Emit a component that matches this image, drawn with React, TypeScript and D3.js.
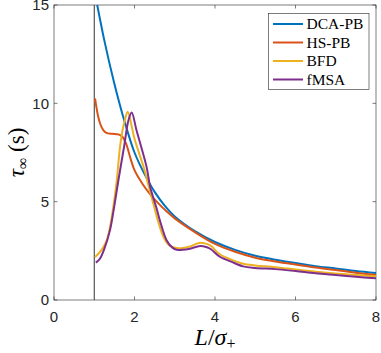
import { useEffect, useRef } from "react";
import * as d3 from "d3";

// values
const dcaL = [1, 1.25, 1.5, 1.75, 2, 2.25, 2.5, 2.75, 3, 3.5, 4, 4.5, 5, 5.5, 6, 6.5, 7, 7.5, 8];
const dcaV = [15.8, 13.2, 11.0, 9.1, 7.5, 6.4, 5.5, 4.8, 4.25, 3.5, 2.95, 2.55, 2.25, 2.05, 1.88, 1.72, 1.6, 1.47, 1.37];

const hsL = [1.02, 1.05, 1.1, 1.15, 1.22, 1.3, 1.45, 1.6, 1.7, 1.8, 1.9, 2, 2.2, 2.4, 2.6, 2.8, 3, 3.5, 4, 4.5, 5, 5.5, 6, 6.5, 7, 7.5, 8];
const hsV = [10.25, 9.85, 9.3, 8.95, 8.65, 8.5, 8.45, 8.42, 8.3, 7.9, 7.2, 6.6, 5.9, 5.35, 4.9, 4.5, 4.15, 3.45, 2.85, 2.45, 2.15, 1.96, 1.8, 1.65, 1.52, 1.39, 1.27];

const bfdL = [1.02, 1.1, 1.2, 1.31, 1.4, 1.5, 1.56, 1.64, 1.7, 1.76, 1.83, 1.95, 2, 2.25, 2.35, 2.5, 2.58, 2.72, 2.85, 3.05, 3.2, 3.38, 3.6, 3.75, 3.9, 4.1, 4.4, 4.7, 5, 5.5, 6, 6.5, 7, 7.5, 8];
const bfdV = [2.18, 2.35, 2.6, 3.03, 3.8, 5.1, 6.09, 7.78, 8.6, 9.14, 9.57, 8.65, 8.2, 6.6, 5.8, 4.65, 4.05, 3.2, 2.8, 2.64, 2.64, 2.72, 2.9, 2.88, 2.75, 2.35, 2.05, 1.84, 1.76, 1.67, 1.55, 1.44, 1.35, 1.27, 1.2];

const fmsaL = [1.04, 1.14, 1.25, 1.39, 1.5, 1.6, 1.74, 1.85, 1.93, 2.05, 2.3, 2.39, 2.55, 2.63, 2.8, 2.95, 3.05, 3.2, 3.38, 3.63, 3.8, 3.9, 4.12, 4.4, 4.7, 5, 5.5, 6, 6.5, 7, 7.5, 8];
const fmsaV = [1.9, 2.1, 2.6, 3.54, 4.8, 6.09, 7.78, 9.14, 9.53, 8.63, 6.77, 5.75, 4.65, 4.05, 3.03, 2.65, 2.56, 2.55, 2.61, 2.75, 2.68, 2.58, 2.2, 1.95, 1.71, 1.63, 1.57, 1.47, 1.36, 1.27, 1.18, 1.1];

const seriesNames = ["DCA-PB", "HS-PB", "BFD", "fMSA"];
const seriesColors = ["#0072BD", "#D95319", "#EDB120", "#7E2F8E"];
const xTicks = [0, 2, 4, 6, 8];
const yTicks = [0, 5, 10, 15];

function Chart() {
  const ref = useRef<SVGSVGElement>(null);

  useEffect(() => {
    const svg = d3.select(ref.current);
    svg.selectAll("*").remove();

    const left = 54, right = 376, top = 5, bottom = 300;
    const x = d3.scaleLinear([0, 8], [left, right]);
    const y = d3.scaleLinear([0, 15], [bottom, top]);

    svg.append("defs").append("clipPath").attr("id", "plot-clip")
      .append("rect")
      .attr("x", left).attr("y", top)
      .attr("width", right - left).attr("height", bottom - top);

    // axes box + ticks
    const axisColor = "#262626";
    svg.append("rect")
      .attr("x", left).attr("y", top)
      .attr("width", right - left).attr("height", bottom - top)
      .attr("fill", "white").attr("stroke", axisColor).attr("stroke-width", 0.6);

    const tickLen = 3.5;
    const ticks = svg.append("g").attr("stroke", axisColor).attr("stroke-width", 0.6);
    xTicks.forEach(t => {
      ticks.append("line").attr("x1", x(t)).attr("x2", x(t)).attr("y1", bottom).attr("y2", bottom - tickLen);
      ticks.append("line").attr("x1", x(t)).attr("x2", x(t)).attr("y1", top).attr("y2", top + tickLen);
    });
    yTicks.forEach(t => {
      ticks.append("line").attr("x1", left).attr("x2", left + tickLen).attr("y1", y(t)).attr("y2", y(t));
      ticks.append("line").attr("x1", right).attr("x2", right - tickLen).attr("y1", y(t)).attr("y2", y(t));
    });

    const tickFont = "'Liberation Sans', Arial, sans-serif";
    svg.append("g").selectAll("text").data(xTicks).join("text")
      .attr("x", d => x(d)).attr("y", 322)
      .attr("text-anchor", "middle")
      .attr("font-family", tickFont).attr("font-size", 15).attr("fill", axisColor)
      .text(d => d);
    svg.append("g").selectAll("text").data(yTicks).join("text")
      .attr("x", left - 5).attr("y", d => y(d))
      .attr("dy", "0.36em")
      .attr("text-anchor", "end")
      .attr("font-family", tickFont).attr("font-size", 15).attr("fill", axisColor)
      .text(d => d);

    // vertical line at L = 1
    svg.append("line")
      .attr("x1", x(1)).attr("x2", x(1)).attr("y1", top).attr("y2", bottom)
      .attr("stroke", "#333").attr("stroke-width", 1);

    const line = d3.line<[number, number]>()
      .x(d => x(d[0])).y(d => y(d[1]))
      .curve(d3.curveCatmullRom.alpha(0.5));

    const series: [number[], number[]][] = [[dcaL, dcaV], [hsL, hsV], [bfdL, bfdV], [fmsaL, fmsaV]];
    const plot = svg.append("g").attr("clip-path", "url(#plot-clip)");
    series.forEach(([ls, vs], i) => {
      plot.append("path")
        .datum(ls.map((l, j) => [l, vs[j]] as [number, number]))
        .attr("d", line)
        .attr("fill", "none")
        .attr("stroke", seriesColors[i])
        .attr("stroke-width", 2);
    });

    // legend
    const serif = "'Liberation Serif', 'Times New Roman', serif";
    const lg = svg.append("g");
    lg.append("rect")
      .attr("x", 268.5).attr("y", 13.5).attr("width", 100.5).attr("height", 76)
      .attr("fill", "white").attr("stroke", axisColor).attr("stroke-width", 0.6);
    seriesNames.forEach((name, i) => {
      const cy = 24 + i * 18.5;
      lg.append("line")
        .attr("x1", 273).attr("x2", 303).attr("y1", cy).attr("y2", cy)
        .attr("stroke", seriesColors[i]).attr("stroke-width", 2);
      lg.append("text")
        .attr("x", 306.5).attr("y", cy).attr("dy", "0.33em")
        .attr("font-family", serif).attr("font-size", 15.5).attr("fill", "#000")
        .text(name);
    });

    // axis labels
    const xl = svg.append("text")
      .attr("x", 215).attr("y", 345)
      .attr("text-anchor", "middle")
      .attr("font-family", serif).attr("font-size", 24).attr("fill", "#000");
    xl.append("tspan").attr("font-style", "italic").text("L");
    xl.append("tspan").text("/");
    xl.append("tspan").attr("font-style", "italic").text("σ");
    xl.append("tspan").attr("font-size", 16).attr("dy", 4).text("+");

    const yl = svg.append("text")
      .attr("transform", `translate(24,${(top + bottom) / 2}) rotate(-90)`)
      .attr("text-anchor", "middle")
      .attr("font-family", serif).attr("font-size", 23).attr("fill", "#000");
    yl.append("tspan").attr("font-style", "italic").text("τ");
    yl.append("tspan").attr("font-size", 16).attr("dy", 4).text("∞");
    yl.append("tspan").attr("dy", -4).text(" (s)");
  }, []);

  return (
    <svg ref={ref} width={381} height={353}
      style={{ position: "absolute", left: 0, top: 0, background: "white" }} />
  );
}

export default function App() {
  return <Chart />;
}
